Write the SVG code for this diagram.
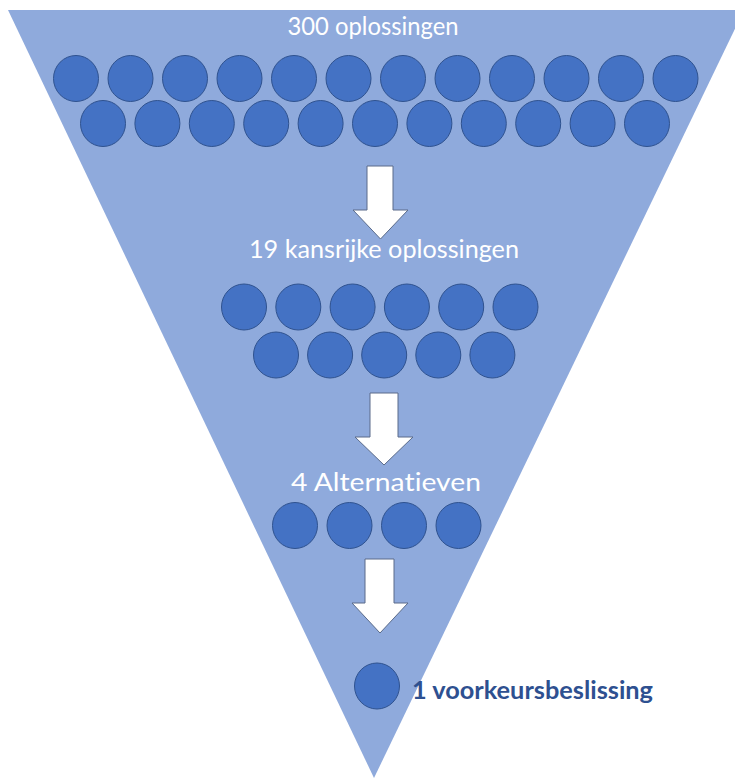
<svg xmlns="http://www.w3.org/2000/svg" width="735" height="778" viewBox="0 0 735 778">
<defs>
<style>
.funnel{fill:#8FAADC;}
.c{fill:#4472C4;stroke:#2F528F;stroke-width:1;}
.arrow{fill:#FFFFFF;stroke:#5A6B8A;stroke-width:1;}
.lbl{font-family:"Lato","Open Sans","Liberation Sans",sans-serif;font-size:25px;fill:#FFFFFF;text-anchor:middle;font-variant-ligatures:none;font-feature-settings:"liga" 0,"dlig" 0;}
.final{font-family:"Lato","Open Sans","Liberation Sans",sans-serif;font-size:25px;font-weight:bold;fill:#2E5090;font-variant-ligatures:none;font-feature-settings:"liga" 0;}
</style>
<ellipse id="dot" class="c" cx="0" cy="0" rx="22.5" ry="23"/>
</defs>
<rect x="0" y="0" width="735" height="778" fill="#FFFFFF"/>
<g id="funnel">
<polygon class="funnel" points="8,10 744,10 374,778"/>
</g>
<g id="stage1">
<text class="lbl" x="373" y="35" textLength="171" lengthAdjust="spacingAndGlyphs">300 oplossingen</text>
<use href="#dot" x="76" y="78.5"/><use href="#dot" x="130.5" y="78.5"/><use href="#dot" x="185" y="78.5"/><use href="#dot" x="239.5" y="78.5"/><use href="#dot" x="294" y="78.5"/><use href="#dot" x="348.5" y="78.5"/><use href="#dot" x="403" y="78.5"/><use href="#dot" x="457.5" y="78.5"/><use href="#dot" x="512" y="78.5"/><use href="#dot" x="566.5" y="78.5"/><use href="#dot" x="621" y="78.5"/><use href="#dot" x="675.5" y="78.5"/>
<use href="#dot" x="103" y="123.5"/><use href="#dot" x="157.4" y="123.5"/><use href="#dot" x="211.8" y="123.5"/><use href="#dot" x="266.2" y="123.5"/><use href="#dot" x="320.6" y="123.5"/><use href="#dot" x="375" y="123.5"/><use href="#dot" x="429.4" y="123.5"/><use href="#dot" x="483.8" y="123.5"/><use href="#dot" x="538.2" y="123.5"/><use href="#dot" x="592.6" y="123.5"/><use href="#dot" x="647" y="123.5"/>
</g>
<g id="stage2">
<text class="lbl" x="384" y="258" textLength="270" lengthAdjust="spacingAndGlyphs">19 kansrijke oplossingen</text>
<use href="#dot" x="244" y="307"/><use href="#dot" x="298.3" y="307"/><use href="#dot" x="352.6" y="307"/><use href="#dot" x="406.9" y="307"/><use href="#dot" x="461.2" y="307"/><use href="#dot" x="515.5" y="307"/>
<use href="#dot" x="276" y="355"/><use href="#dot" x="330.1" y="355"/><use href="#dot" x="384.2" y="355"/><use href="#dot" x="438.3" y="355"/><use href="#dot" x="492.4" y="355"/>
</g>
<g id="stage3">
<text class="lbl" x="386" y="491" textLength="190" lengthAdjust="spacingAndGlyphs">4 Alternatieven</text>
<use href="#dot" x="295" y="525.5"/><use href="#dot" x="349.5" y="525.5"/><use href="#dot" x="404" y="525.5"/><use href="#dot" x="458.5" y="525.5"/>
</g>
<g id="stage4">
<use href="#dot" x="377" y="686"/>
<text class="final" x="412" y="699" textLength="241" lengthAdjust="spacingAndGlyphs">1 voorkeursbeslissing</text>
</g>
<g id="connectors">
<polygon class="arrow" points="367,166 393,166 393,210 408,210 380.5,239 353,210 367,210"/>
<polygon class="arrow" points="370,393 398,393 398,437 413,437 384,465 355,437 370,437"/>
<polygon class="arrow" points="365,559 394,559 394,603 408,603 380,633 352,603 365,603"/>
</g>
</svg>
